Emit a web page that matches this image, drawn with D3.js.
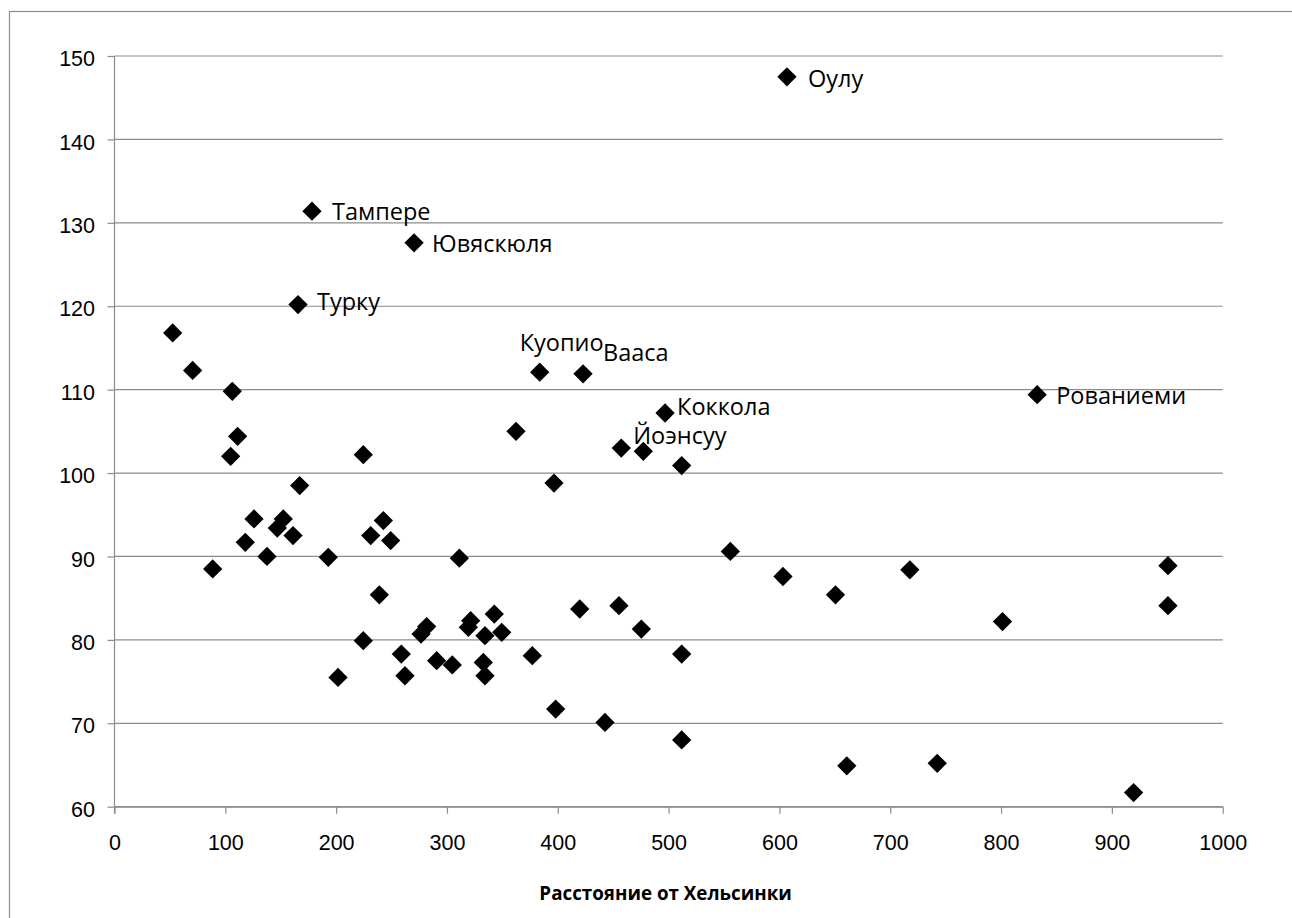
<!DOCTYPE html>
<html>
<head>
<meta charset="utf-8">
<script src="https://cdn.jsdelivr.net/npm/d3@7"></script>
<style>
  body { margin: 0; background: #fff; }
  svg { display: block; font-family: "Open Sans", "Noto Sans", sans-serif; }
</style>
</head>
<body>
<div id="chart"></div>
<script>
// distance from Helsinki (km)
const distances = [
  52.5, 70.5, 88.6, 104.8, 106.3, 111.1, 118.0, 125.9, 137.6, 146.9, 152.3,
  161.1, 165.6, 167.1, 178.2, 192.9, 201.7, 224.5, 224.5, 231.2, 239.0, 242.6,
  249.2, 258.8, 262.1, 270.3, 276.6, 281.7, 290.7, 304.8, 311.2, 319.3, 321.4,
  332.8, 334.3, 334.3, 342.7, 349.4, 362.3, 377.0, 383.7, 396.6, 398.1, 419.8,
  422.8, 442.6, 455.2, 457.3, 475.4, 477.2, 496.8, 511.8, 511.8, 511.8, 555.7,
  603.2, 606.8, 650.6, 660.8, 717.7, 742.4, 801.3, 832.6, 919.6, 950.6, 950.6
];
// index value
const values = [
  116.8, 112.3, 88.5, 102.0, 109.8, 104.4, 91.7, 94.5, 90.0, 93.4, 94.5,
  92.5, 120.2, 98.5, 131.4, 89.9, 75.5, 102.2, 79.9, 92.5, 85.4, 94.3,
  91.9, 78.3, 75.7, 127.6, 80.7, 81.6, 77.5, 77.0, 89.8, 81.5, 82.3,
  77.3, 75.7, 80.5, 83.1, 80.9, 105.0, 78.1, 112.1, 98.8, 71.7, 83.7,
  111.9, 70.1, 84.1, 103.0, 81.3, 102.6, 107.2, 100.9, 78.3, 68.0, 90.6,
  87.6, 147.5, 85.4, 64.9, 88.4, 65.2, 82.2, 109.4, 61.7, 88.9, 84.1
];
// city labels (by point index)
const cityNames = {
  12: "Турку", 14: "Тампере", 25: "Ювяскюля", 40: "Куопио", 44: "Вааса",
  47: "Йоэнсуу", 50: "Коккола", 56: "Оулу", 62: "Рованиеми"
};
const xTicks = [0, 100, 200, 300, 400, 500, 600, 700, 800, 900, 1000];
const yTicks = [60, 70, 80, 90, 100, 110, 120, 130, 140, 150];
const xTitle = "Расстояние от Хельсинки";

// label placement relative to the marker (px)
const labelOffset = {
  "Турку": [19, -3], "Тампере": [20, 1], "Ювяскюля": [18, 1],
  "Куопио": [-20, -29], "Вааса": [20, -21], "Йоэнсуу": [12, -12],
  "Коккола": [12, -6], "Оулу": [21, 2], "Рованиеми": [19, 1]
};

const W = 1292, H = 918;
const plot = { left: 114.5, right: 1222.7, top: 56, bottom: 806.7 };
const gridColor = "#8c8c8c";

const svg = d3.select("#chart").append("svg")
  .attr("width", W).attr("height", H);

// chart frame (runs past the picture on the right and bottom)
svg.append("rect")
  .attr("x", 9.5).attr("y", 11.5)
  .attr("width", 1400).attr("height", 1000)
  .attr("fill", "none").attr("stroke", "#8c8c8c").attr("stroke-width", 1.2);

const x = d3.scaleLinear().domain([0, 1000]).range([plot.left, plot.right]);
const y = d3.scaleLinear().domain([60, 150]).range([plot.bottom, plot.top]);

// horizontal gridlines
svg.append("g")
  .selectAll("line")
  .data(yTicks)
  .join("line")
  .attr("x1", plot.left).attr("x2", plot.right)
  .attr("y1", (d) => y(d)).attr("y2", (d) => y(d))
  .attr("stroke", gridColor).attr("stroke-width", 1.2);

// y axis
const yAxis = svg.append("g")
  .attr("transform", `translate(${plot.left},0)`)
  .call(d3.axisLeft(y).tickValues(yTicks).tickSize(7).tickSizeOuter(0).tickPadding(12.5));
yAxis.select(".domain").attr("stroke", gridColor).attr("stroke-width", 1.2)
  .attr("d", `M0,${plot.top}V${plot.bottom + 7}`);
yAxis.selectAll(".tick line").attr("stroke", gridColor).attr("stroke-width", 1.2);
yAxis.selectAll(".tick text")
  .attr("font-size", 21.5).attr("fill", "#000").attr("font-family", null)
  .attr("dy", "0.45em");

// x axis
const xAxis = svg.append("g")
  .attr("transform", `translate(0,${plot.bottom})`)
  .call(d3.axisBottom(x).tickValues(xTicks).tickFormat(d3.format("d"))
    .tickSize(7).tickSizeOuter(0).tickPadding(21));
xAxis.select(".domain").attr("stroke", gridColor).attr("stroke-width", 1.2);
xAxis.selectAll(".tick line").attr("stroke", gridColor).attr("stroke-width", 1.2);
xAxis.selectAll(".tick text")
  .attr("font-size", 21.5).attr("fill", "#000").attr("font-family", null);

svg.append("text")
  .attr("x", (plot.left + plot.right) / 2 - 3)
  .attr("y", 900)
  .attr("text-anchor", "middle")
  .attr("font-size", 18.8)
  .attr("font-weight", "bold")
  .text(xTitle);

const points = distances.map((d, i) => ({ dist: d, val: values[i], name: cityNames[i] || "" }));

// markers
const diamond = d3.symbol().type(d3.symbolSquare).size(186);
svg.append("g")
  .selectAll("path")
  .data(points)
  .join("path")
  .attr("d", diamond)
  .attr("transform", (d) => `translate(${x(d.dist)},${y(d.val)}) rotate(45)`)
  .attr("fill", "#000");

// city labels
svg.append("g")
  .selectAll("text")
  .data(points.filter((d) => d.name))
  .join("text")
  .attr("x", (d) => x(d.dist) + labelOffset[d.name][0])
  .attr("y", (d) => y(d.val) + labelOffset[d.name][1])
  .attr("dy", "0.35em")
  .attr("font-size", 23.5)
  .text((d) => d.name);
</script>
</body>
</html>
